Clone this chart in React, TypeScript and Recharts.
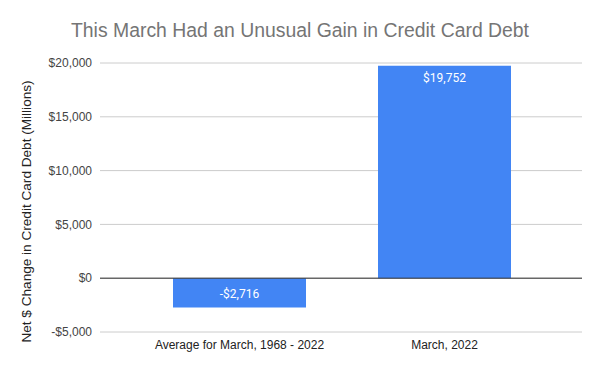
import React from "react";
import {
  BarChart,
  Bar,
  XAxis,
  YAxis,
  CartesianGrid,
  ReferenceLine,
  LabelList,
} from "recharts";

const categories = ["Average for March, 1968 - 2022", "March, 2022"];
const netChange = [-2716, 19752];
const yTicks = [-5000, 0, 5000, 10000, 15000, 20000];

const data = categories.map((name, i) => ({ name, value: netChange[i] }));

const FONT = "'Liberation Sans', Arial, sans-serif";

function money(v: number) {
  const s = "$" + Math.abs(v).toLocaleString("en-US");
  return v < 0 ? "-" + s : s;
}

function BarValue(props: any) {
  const { x, y, width, height, value } = props;
  const top = Math.min(y, y + height);
  const h = Math.abs(height);
  const cy = value < 0 ? top + h / 2 + 1 : top + 12;
  return (
    <text
      x={x + width / 2}
      y={cy}
      fill="#ffffff"
      fontSize={12}
      fontFamily="Roboto, sans-serif"
      textAnchor="middle"
      dominantBaseline="central"
    >
      {money(value)}
    </text>
  );
}

export default function App() {
  return (
    <div
      style={{
        position: "absolute",
        left: 0,
        top: 0,
        width: 600,
        height: 371,
        background: "#fff",
        fontFamily: FONT,
      }}
    >
      <div
        style={{
          position: "absolute",
          top: 19,
          left: 0,
          width: 600,
          textAlign: "center",
          fontSize: 19.4,
          color: "#757575",
        }}
      >
        This March Had an Unusual Gain in Credit Card Debt
      </div>
      <BarChart
        width={600}
        height={371}
        data={data}
        margin={{ top: 63, right: 18, bottom: 9, left: 0 }}
        barCategoryGap={36}
      >
        <CartesianGrid vertical={false} stroke="#cccccc" />
        <XAxis
          dataKey="name"
          axisLine={false}
          tickLine={false}
          padding={{ left: 37, right: 35 }}
          height={30}
          tick={{ fill: "#222", fontSize: 12, fontFamily: FONT }}
          interval={0}
        />
        <YAxis
          width={100}
          domain={[-5000, 20000]}
          ticks={yTicks}
          axisLine={false}
          tickLine={false}
          tickFormatter={money}
          tick={{ fill: "#444", fontSize: 12, fontFamily: FONT }}
          label={{
            value: "Net $ Change in Credit Card Debt (Millions)",
            angle: -90,
            position: "insideLeft",
            dx: 21,
            dy: 14,
            style: { textAnchor: "middle", fill: "#222", fontSize: 13.6, fontFamily: FONT },
          }}
        />
        <ReferenceLine y={0} stroke="#333" strokeWidth={1} />
        <Bar dataKey="value" fill="#4285f4" isAnimationActive={false}>
          <LabelList dataKey="value" content={BarValue} />
        </Bar>
      </BarChart>
    </div>
  );
}
